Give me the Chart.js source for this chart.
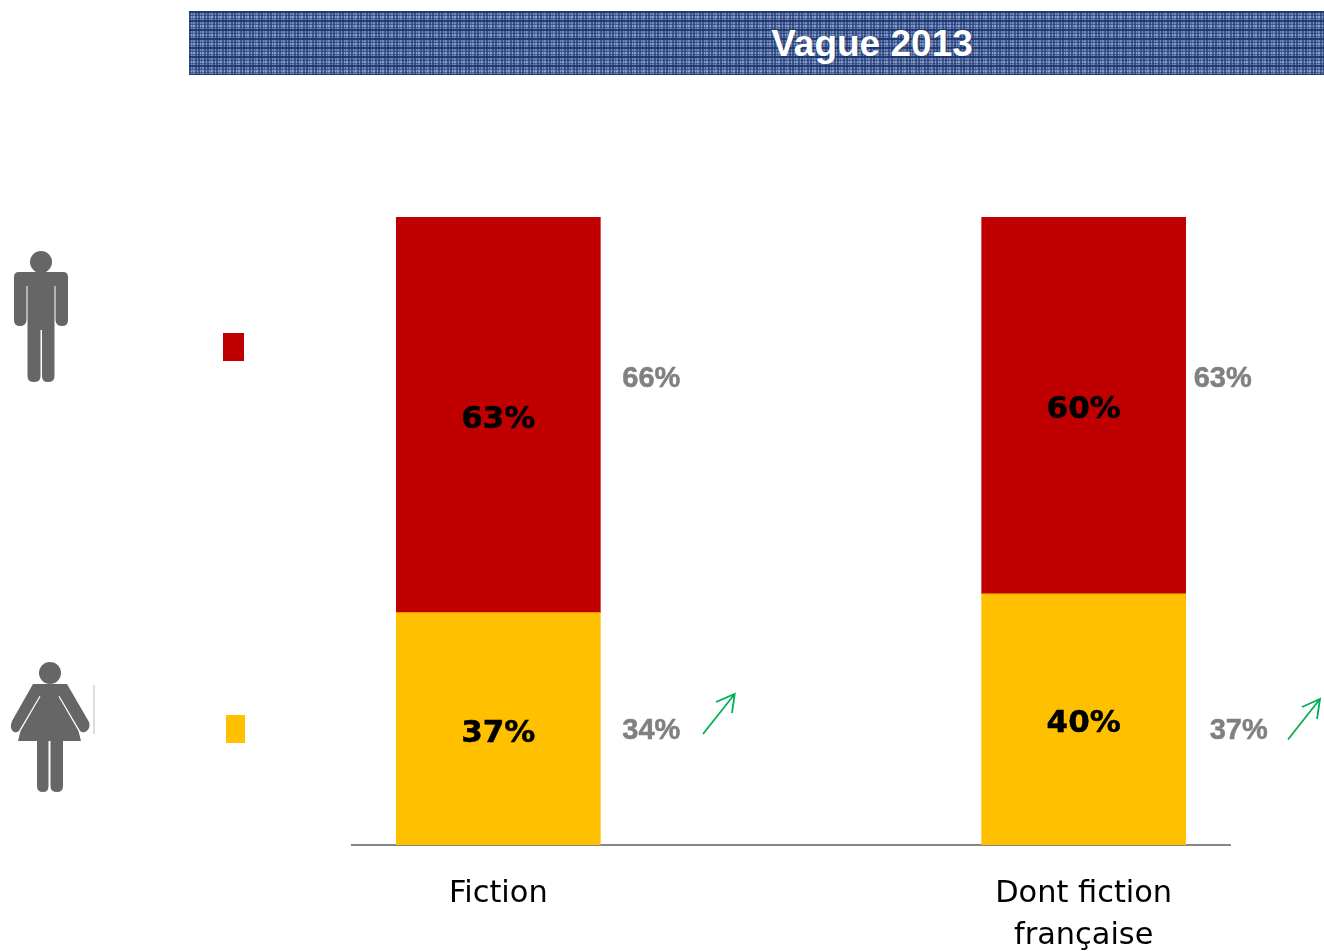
<!DOCTYPE html>
<html><head><meta charset="utf-8">
<style>
html,body{margin:0;padding:0;background:#fff;width:1324px;height:951px;overflow:hidden}
#c{position:absolute;left:0;top:0}
#banner{position:absolute;left:189px;top:11px;width:1135px;height:64px;
 background-color:#8a9ec4;
 background-image:
  repeating-linear-gradient(180deg,rgba(24,52,115,.9) 0 2px,rgba(24,52,115,.2) 2px 4px,rgba(24,52,115,.6) 4px 5px,transparent 5px 7px,rgba(24,52,115,.5) 7px 8px,rgba(24,52,115,.15) 8px 9px),
  repeating-linear-gradient(90deg,rgba(24,52,115,.65) 0 2px,transparent 2px 3px,rgba(24,52,115,.4) 3px 4px,transparent 4px 6px,rgba(24,52,115,.6) 6px 8px,transparent 8px 9px);
 color:#fff;font:bold 37px "Liberation Sans",Arial,sans-serif;text-align:center;line-height:65px;
 text-indent:231px;text-shadow:0 0 2px rgba(20,40,90,.8)}
.sq{position:absolute}
svg{position:absolute;left:0;top:0}
</style></head>
<body>
<canvas id="c" width="1324" height="951"></canvas>
<div id="banner">Vague 2013</div>
<div class="sq" style="left:223px;top:333px;width:21px;height:28px;background:#C00000"></div>
<div class="sq" style="left:226px;top:715px;width:19px;height:28px;background:#FFC000"></div>
<svg width="1324" height="951" viewBox="0 0 1324 951">
 <defs><filter id="b" x="-10%" y="-10%" width="120%" height="120%"><feGaussianBlur stdDeviation="0.6"/></filter></defs>
 <g filter="url(#b)" fill="#666">
  <circle cx="41" cy="262" r="11"/>
  <path d="M19 272H63Q68 272 68 277V320Q68 326 62 326Q56 326 55.500 320V286H54.500V376Q54.500 382 48 382Q42 382 42 376V330H40.500V376Q40.500 382 34 382Q27.500 382 27.500 376V286H26.500V320Q26 326 20 326Q14 326 14 320V277Q14 272 19 272Z"/>
  <circle cx="50" cy="673" r="11"/>
  <path d="M33 684H67L89 722Q91 729 85 732Q81 733 79.500 730L59.500 696L58.500 696.500L78.500 731L81 741H63V786Q63 792 57 792Q50.500 792 50.500 786V741H48.500V786Q48.500 792 43 792Q37 792 37 786V741H18L20.500 731L40.500 696.500L39.500 696L19.500 730Q18 733 14 732Q9 729 12 721Z"/>
 </g>
 <line x1="94" y1="685" x2="94" y2="734" stroke="#bbb" stroke-width="1"/>
 <g fill="none" stroke="#00B050" stroke-width="1.800">
  <path d="M703 734L734.700 694M716 702L734.700 694L732 713"/>
  <path d="M1288 739.500L1320 699M1302 707L1320 699L1317 719"/>
 </g>
</svg>
<script src="https://cdn.jsdelivr.net/npm/chart.js@4"></script>
<script>
const categories = [["Fiction"], ["Dont fiction", "française"]];
const women = [37, 40];
const men = [63, 60];
const womenPrevious = ["34%", "37%"];
const menPrevious = ["66%", "63%"];

const sideGap = {men: [22, 8], women: [22, 24]};
const sideY = {men: 379, women: 731};

const labelsPlugin = {
  id: 'labels',
  afterDatasetsDraw(chart) {
    const ctx = chart.ctx;
    ctx.save();
    ctx.textBaseline = 'middle';
    chart.data.datasets.forEach((ds, di) => {
      const key = di === 0 ? 'women' : 'men';
      const prev = di === 0 ? womenPrevious : menPrevious;
      chart.getDatasetMeta(di).data.forEach((bar, i) => {
        const cy = (bar.y + bar.base) / 2 + 5;
        ctx.font = 'bold 31px "DejaVu Sans"';
        ctx.fillStyle = '#000';
        ctx.strokeStyle = '#000';
        ctx.lineWidth = 0.5;
        ctx.textAlign = 'center';
        ctx.fillText(ds.data[i].y + '%', bar.x, cy);
        ctx.strokeText(ds.data[i].y + '%', bar.x, cy);
        ctx.font = 'bold 29px "Liberation Sans"';
        ctx.fillStyle = '#808080';
        ctx.strokeStyle = '#808080';
        ctx.textAlign = 'left';
        const sx = bar.x + bar.width / 2 + sideGap[key][i];
        ctx.fillText(prev[i], sx, sideY[key]);
        ctx.strokeText(prev[i], sx, sideY[key]);
      });
    });
    ctx.restore();
  }
};

new Chart(document.getElementById('c'), {
  type: 'bar',
  data: {
    datasets: [
      {label: 'Femmes', data: women.map((y, x) => ({x, y})), backgroundColor: '#FFC000', stack: 's', barThickness: 204},
      {label: 'Hommes', data: men.map((y, x) => ({x, y})), backgroundColor: '#C00000', stack: 's', barThickness: 204}
    ]
  },
  plugins: [labelsPlugin],
  options: {
    responsive: false,
    animation: false,
    layout: {padding: {left: 352, right: 94, top: 217, bottom: 0}},
    plugins: {legend: {display: false}, title: {display: false}, tooltip: {enabled: false}},
    scales: {
      x: {
        type: 'linear', min: -0.25, max: 1.25, offset: false,
        grid: {display: false, drawTicks: false},
        border: {display: true, color: '#868686', width: 2},
        afterBuildTicks(axis) { axis.ticks = categories.map((_, i) => ({value: i})); },
        afterFit(axis) { axis.height = 106; },
        ticks: {
          autoSkip: false, maxRotation: 0, minRotation: 0, padding: 28,
          color: '#000',
          font: {family: '"DejaVu Sans"', size: 30.4, lineHeight: 1.38},
          callback: v => categories[v]
        }
      },
      y: {display: false, stacked: true, min: 0, max: 100}
    }
  }
});
</script>
</body></html>
